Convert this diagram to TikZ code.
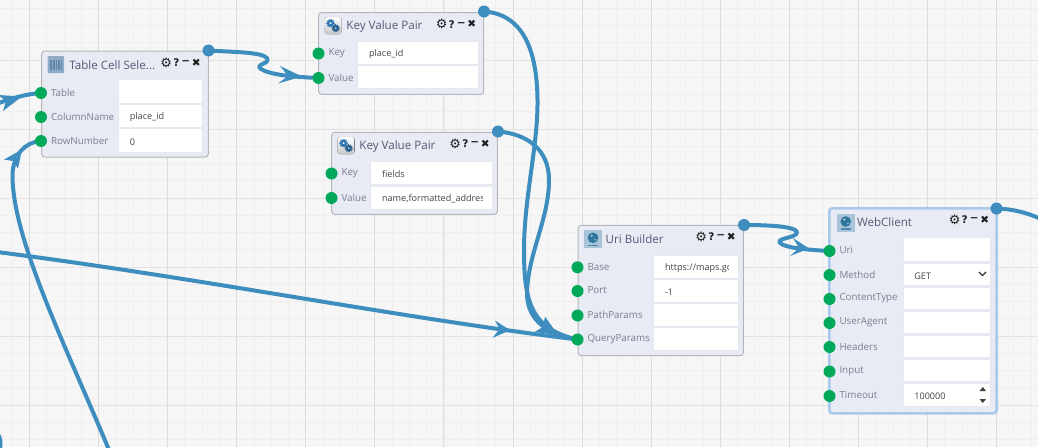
\documentclass[tikz,border=0pt]{standalone}
\usepackage{fontspec}
\setmainfont{Open Sans}
\newfontfamily\symfont{DejaVu Sans}
\pgfdeclarelayer{backlayer}
\pgfdeclarelayer{wirelayer}
\pgfsetlayers{backlayer,wirelayer,main}
\definecolor{pagebg}{HTML}{F6F6F6}
\definecolor{gridminor}{HTML}{EFEFEF}
\definecolor{gridmajor}{HTML}{E3E3E3}
\definecolor{gridstrong}{HTML}{DCDCDC}
\definecolor{panelfill}{HTML}{E8EBF4}
\definecolor{panelline}{HTML}{B4B6BE}
\definecolor{panelglow}{HTML}{A9C8EA}
\definecolor{wirecol}{HTML}{3D8DBF}
\definecolor{portgreen}{HTML}{00A85A}
\definecolor{labelcol}{HTML}{7C7C92}
\definecolor{titlecol}{HTML}{555A76}
\definecolor{valuecol}{HTML}{444444}
\definecolor{fieldline}{HTML}{E6E8F0}
\definecolor{globebox}{HTML}{A9C3D9}
\definecolor{globeblue}{HTML}{2F769F}
\definecolor{gearblue}{HTML}{2F78B4}
\definecolor{iconbar}{HTML}{5F86AA}
\definecolor{iconbox}{HTML}{8FABC6}
\tikzset{
  panel/.style={draw=panelline,fill=panelfill,line width=1pt,rounded corners=3pt,inner sep=0pt},
  panelsel/.style={panel,draw=panelglow,line width=2.6pt},
  fieldbox/.style={draw=fieldline,fill=white,line width=.7pt,inner sep=0pt},
  fieldtext/.style={anchor=west,inner sep=0pt,minimum width=0pt,minimum height=0pt,text=valuecol,font=\fontsize{9.1}{11}\selectfont},
  portin/.style={circle,fill=portgreen,minimum size=12pt,inner sep=0pt},
  portout/.style={circle,fill=wirecol,minimum size=12pt,inner sep=0pt},
  portlabel/.style={anchor=west,inner sep=0pt,text=labelcol,font=\fontsize{9.8}{11}\selectfont},
  titletext/.style={anchor=west,inner sep=0pt,text=titlecol,font=\fontsize{11.6}{13}\selectfont},
  ctrl/.style={inner sep=0pt,text=black!88,font=\symfont\bfseries\fontsize{10.5}{11}\selectfont},
  ctrlgear/.style={ctrl,font=\symfont\bfseries\fontsize{13}{13}\selectfont},
  wire/.style={draw=wirecol,line width=4pt,line cap=round,line join=round},
  barb/.style={fill=wirecol},
}
\newcommand{\panelbox}[7]{% name,style,x1,y1,x2,y2,title
  \pgfmathsetmacro{\pw}{#5-#3}\pgfmathsetmacro{\ph}{#6-#4}
  \pgfmathsetmacro{\pcx}{(#5+#3)/2}\pgfmathsetmacro{\pcy}{(#6+#4)/2}
  \begin{pgfonlayer}{backlayer}
  \node[#2,minimum width=\pw pt,minimum height=\ph pt] (#1) at (\pcx,\pcy) {};
  \end{pgfonlayer}
  \node[titletext] (#1title) at (#3+27.5,#4+14) {#7};
  \node[ctrlgear] (#1gear) at (#5-42,#4+11.7) {\char"2699};
  \node[ctrl] (#1help) at (#5-32,#4+11.7) {?};
  \node[ctrl] (#1min) at (#5-22.5,#4+11.7) {\char"2212};
  \node[ctrl] (#1close) at (#5-12,#4+11.7) {\char"2716};
}
\newcommand{\fieldcell}[6]{% name,x1,y1,x2,y2,text
  \pgfmathsetmacro{\fw}{#4-#2}\pgfmathsetmacro{\fh}{#5-#3}
  \pgfmathsetmacro{\fcx}{(#4+#2)/2}\pgfmathsetmacro{\fcy}{(#5+#3)/2}
  \node[fieldbox,minimum width=\fw pt,minimum height=\fh pt,
    path picture={
      \clip (path picture bounding box.south west) rectangle ([xshift=-10pt]path picture bounding box.north east);
      \node[fieldtext] (#1text) at ([xshift=11pt,yshift=-1.5pt]path picture bounding box.west) {#6};
    }] (#1) at (\fcx,\fcy) {};
}
\newcommand{\inport}[4]{% name,x,y,label
  \node[portin] (#1) at (#2,#3) {};
  \node[portlabel] (#1label) at (#2+9.8,#3-.6) {#4};
}
\newcommand{\gearicon}[2]{%
  \fill[draw=black!22,top color=white,bottom color=black!22,rounded corners=2.5pt] (#1,#2) rectangle (#1+17,#2+17);
  \draw[draw=gearblue,line width=2.2pt] (#1+6,#2+6.2) circle (2.3);
  \draw[draw=gearblue,line width=1pt,dash pattern=on 1.2pt off 1pt] (#1+6,#2+6.2) circle (3.8);
  \draw[draw=gearblue!80!black,line width=2.2pt] (#1+11.2,#2+11.2) circle (2.1);
  \draw[draw=gearblue!80!black,line width=1pt,dash pattern=on 1.2pt off 1pt] (#1+11.2,#2+11.2) circle (3.6);
}
\newcommand{\globeicon}[2]{%
  \fill[globebox] (#1,#2) rectangle (#1+17.5,#2+17.5);
  \fill[globeblue] (#1+8.7,#2+7.5) circle (5.3);
  \fill[globebox] (#1+7.3,#2+5.5) circle (1.3);
  \fill[globebox] (#1+11,#2+9.5) circle (.9);
  \fill[globeblue!75!globebox] (#1+4,#2+14.3) rectangle (#1+13.5,#2+15.5);
}
\begin{document}
\begin{tikzpicture}[x=1pt,y=-1pt]
\useasboundingbox (0,0) rectangle (1038,447);
\begin{pgfonlayer}{backlayer}
\fill[pagebg] (0,0) rectangle (1038,447);
\foreach \k in {-3,...,62} {
  \pgfmathsetmacro{\gx}{29.5+17.27*\k}
  \draw[gridminor,line width=.9pt] (\gx,0) -- (\gx,447);
}
\foreach \k in {-3,...,26} {
  \pgfmathsetmacro{\gy}{60+17.25*\k}
  \draw[gridminor,line width=.9pt] (0,\gy) -- (1038,\gy);
}
\foreach \k in {0,...,15} {
  \pgfmathsetmacro{\gx}{29.5+69.08*\k}
  \draw[gridstrong,line width=1pt] (\gx,0) -- (\gx,447);
}
\foreach \k in {-1,...,5} {
  \pgfmathsetmacro{\gy}{60+69*\k}
  \draw[gridmajor,line width=1pt] (0,\gy) -- (1038,\gy);
}
\end{pgfonlayer}

% Table Cell Selector
\panelbox{tcs}{panel}{41.7}{51}{208.3}{157}{Table Cell Sele...}
\fieldcell{tcsA}{118.5}{79.5}{202.5}{103}{}
\fieldcell{tcsB}{118.5}{104.5}{202.5}{127}{place\_id}
\fieldcell{tcsC}{118.5}{128.5}{202.5}{152}{0}
\inport{tcsTable}{41}{93}{Table}
\inport{tcsColumn}{41}{117}{ColumnName}
\inport{tcsRow}{41}{141}{RowNumber}
\node[portout] (tcsOut) at (208.5,50.5) {};
\fill[iconbox,rounded corners=1pt] (47.5,56) rectangle (64,73);
\fill[iconbar] (50,60) rectangle (61.5,70);
\foreach \bx in {52.4,55,57.6,60.2} \draw[iconbox,line width=.5pt] (\bx,60) -- (\bx,70);

% Key Value Pair 1
\panelbox{kva}{panel}{318.7}{12.5}{483.7}{94.3}{Key Value Pair}
\fieldcell{kvaK}{357.7}{41}{478.3}{64}{place\_id}
\fieldcell{kvaV}{357.7}{65.5}{478.3}{88.5}{}
\inport{kvaKey}{318.5}{53.5}{Key}
\inport{kvaValue}{318.5}{78}{Value}
\node[portout] (kvaOut) at (484,11.5) {};
\gearicon{324.5}{17}

% Key Value Pair 2
\panelbox{kvb}{panel}{331.7}{132.3}{497.3}{214.3}{Key Value Pair}
\fieldcell{kvbK}{370.7}{161}{492}{184}{fields}
\fieldcell{kvbV}{370.7}{186}{492}{209}{name,formatted\_addres}
\inport{kvbKey}{331.5}{173.5}{Key}
\inport{kvbValue}{331.5}{198}{Value}
\node[portout] (kvbOut) at (498,131.5) {};
\gearicon{337.5}{137}

% Uri Builder
\panelbox{uri}{panel}{578}{225.3}{743.3}{355.7}{Uri Builder}
\fieldcell{uriA}{653.7}{255}{738.3}{278}{https://maps.go}
\fieldcell{uriB}{653.7}{279}{738.3}{302}{-1}
\fieldcell{uriC}{653.7}{303}{738.3}{326}{}
\fieldcell{uriD}{653.7}{327}{738.3}{350}{}
\inport{uriBase}{577.5}{267.3}{Base}
\inport{uriPort}{577.5}{291}{Port}
\inport{uriPath}{577.5}{315.5}{PathParams}
\inport{uriQuery}{577.5}{339.5}{QueryParams}
\node[portout] (uriOut) at (744,225) {};
\globeicon{584.3}{230.3}

% WebClient
\panelbox{web}{panelsel}{829.3}{208.3}{996.7}{413.3}{WebClient}
\fieldcell{webA}{903}{237.7}{990}{261}{}
\fieldcell{webB}{903}{263}{990}{285.5}{GET}
\fieldcell{webC}{903}{287}{990}{309.5}{}
\fieldcell{webD}{903}{311}{990}{333.5}{}
\fieldcell{webE}{903}{335}{990}{357.5}{}
\fieldcell{webF}{903}{359}{990}{381.5}{}
\fieldcell{webG}{903}{383}{990}{406}{100000}
\inport{webUri}{829.5}{251}{Uri}
\inport{webMethod}{829.5}{275}{Method}
\inport{webType}{829.5}{299}{ContentType}
\inport{webAgent}{829.5}{323}{UserAgent}
\inport{webHeaders}{829.5}{347}{Headers}
\inport{webInput}{829.5}{371.5}{Input}
\inport{webTimeout}{829.5}{396}{Timeout}
\node[portout] (webOut) at (996.5,208.5) {};
\globeicon{837}{214}
\draw[black!80,line width=1.2pt] (979,272) -- (982.5,275.5) -- (986,272);
\fill[black!75] (979.5,391) -- (986,391) -- (982.75,387) -- cycle;
\fill[black!75] (979.5,399) -- (986,399) -- (982.75,403) -- cycle;

% free ends
\coordinate (leftA) at (-3,252);
\coordinate (leftB) at (-4,104);
\coordinate (bottomA) at (109,450);
\coordinate (rightA) at (1041,219);
\coordinate (cornerTop) at (-3,433);
\coordinate (cornerEnd) at (0,450);

\begin{pgfonlayer}{wirelayer}
\draw[wire] (tcsOut.center) .. controls (232,52) and (262,52) .. (267,58)
  .. controls (271,64) and (254,64) .. (261,69)
  .. controls (270,75) and (295,77) .. (kvaValue.center);
\fill[barb] (302,76.5) -- (280,66) -- (288,76) -- (278,83.5) -- cycle;

\draw[wire] (kvaOut.center) .. controls (520,14) and (538,45) .. (537.5,105)
  .. controls (537,150) and (524,200) .. (524,250)
  .. controls (524,300) and (530,329) .. (uriQuery.center);
\draw[wire] (kvbOut.center) .. controls (528,134) and (549,150) .. (549,180)
  .. controls (549,220) and (527,255) .. (527,295)
  .. controls (528,322) and (550,335) .. (uriQuery.center);
\fill[barb] (558,335) -- (545,316.5) -- (543,327) -- (534.5,332) -- cycle;

\draw[wire] (leftA) .. controls (200,278) and (400,318) .. (uriQuery.center);
\fill[barb] (510,330.2) -- (495,320.5) -- (499.5,329) -- (492.5,338) -- cycle;

\draw[wire] (leftB) .. controls (10,99) and (25,94) .. (tcsTable.center);
\fill[barb] (22,96.5) -- (-2,95) -- (6,101) -- (3,111) -- cycle;

\draw[wire] (bottomA) .. controls (70,355) and (12,240) .. (12.5,175)
  .. controls (13,155) and (25,142) .. (tcsRow.center);
\fill[barb] (22,149.5) -- (4,159.5) -- (13,161) -- (18,168.5) -- cycle;

\draw[wire] (uriOut.center) .. controls (765,225) and (795,226) .. (797,232)
  .. controls (798,238) and (775,238) .. (780,243)
  .. controls (785,248) and (810,250) .. (webUri.center);
\fill[barb] (809,248.5) -- (793,238) -- (799,248) -- (790,256) -- cycle;

\draw[wire] (webOut.center) .. controls (1012,209) and (1025,212) .. (rightA);
\draw[wire] (cornerTop) .. controls (1,438) and (1,443) .. (cornerEnd);
\end{pgfonlayer}
\end{tikzpicture}
\end{document}
